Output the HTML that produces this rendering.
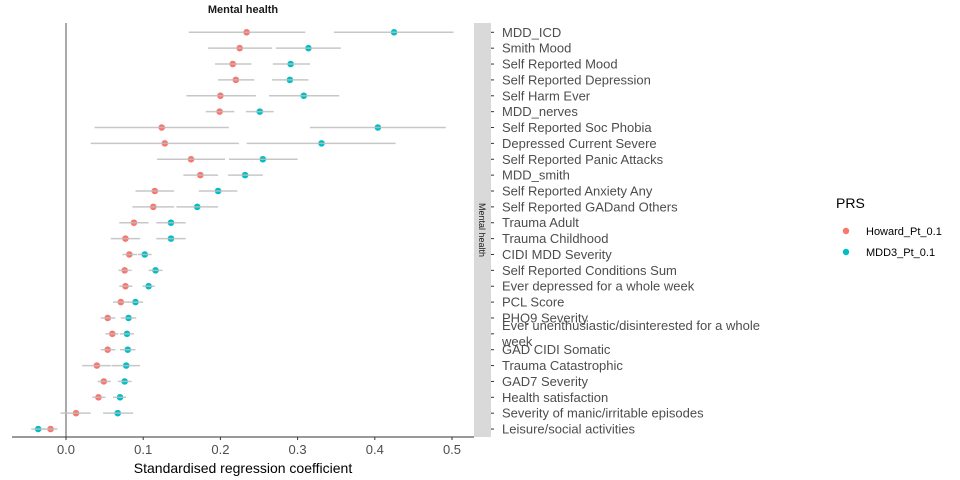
<!DOCTYPE html>
<html><head><meta charset="utf-8"><style>
body{margin:0;background:#fff;}
svg{display:block;font-family:"Liberation Sans",sans-serif;}
</style></head><body>
<svg id="chart" width="960" height="480"></svg>
<script>
const categories=["MDD_ICD","Smith Mood","Self Reported Mood","Self Reported Depression","Self Harm Ever","MDD_nerves","Self Reported Soc Phobia","Depressed Current Severe","Self Reported Panic Attacks","MDD_smith","Self Reported Anxiety Any","Self Reported GADand Others","Trauma Adult","Trauma Childhood","CIDI MDD Severity","Self Reported Conditions Sum","Ever depressed for a whole week","PCL Score","PHQ9 Severity","Ever unenthusiastic/disinterested for a whole week","GAD CIDI Somatic","Trauma Catastrophic","GAD7 Severity","Health satisfaction","Severity of manic/irritable episodes","Leisure/social activities"];
const howardEst=[0.234,0.225,0.216,0.220,0.200,0.199,0.124,0.128,0.162,0.174,0.115,0.113,0.088,0.077,0.082,0.076,0.077,0.071,0.054,0.060,0.054,0.040,0.049,0.042,0.013,-0.020];
const howardLo=[0.159,0.184,0.193,0.197,0.156,0.181,0.037,0.032,0.118,0.152,0.090,0.086,0.069,0.058,0.073,0.068,0.069,0.061,0.045,0.051,0.045,0.021,0.041,0.034,-0.007,-0.029];
const howardHi=[0.310,0.267,0.240,0.244,0.246,0.218,0.211,0.224,0.206,0.197,0.140,0.140,0.107,0.096,0.092,0.085,0.086,0.081,0.064,0.068,0.064,0.058,0.058,0.051,0.032,-0.011];
const mdd3Est=[0.425,0.314,0.291,0.290,0.308,0.251,0.404,0.331,0.255,0.232,0.197,0.170,0.136,0.136,0.102,0.116,0.107,0.090,0.081,0.079,0.080,0.078,0.076,0.070,0.067,-0.036];
const mdd3Lo=[0.347,0.272,0.268,0.267,0.263,0.233,0.316,0.234,0.211,0.210,0.172,0.143,0.117,0.117,0.093,0.107,0.099,0.080,0.071,0.070,0.070,0.059,0.067,0.061,0.048,-0.045];
const mdd3Hi=[0.502,0.356,0.316,0.314,0.354,0.269,0.492,0.427,0.300,0.255,0.222,0.197,0.155,0.155,0.111,0.125,0.115,0.100,0.091,0.088,0.090,0.096,0.085,0.078,0.087,-0.027];
const xTicks=[0,0.1,0.2,0.3,0.4,0.5];
const xTickLabels=["0.0","0.1","0.2","0.3","0.4","0.5"];

const NS="http://www.w3.org/2000/svg";
const svg=document.getElementById('chart');
const P={l:12,r:474,t:23,b:437};
const x=v=>66+772*v;
const y=i=>32.3+i*15.87;
function mk(t,a,txt){const e=document.createElementNS(NS,t);for(const k in a)e.setAttribute(k,a[k]);if(txt!=null)e.textContent=txt;svg.appendChild(e);return e;}

let e;
e=mk('text',{x:243,y:13,'text-anchor':'middle','font-size':11,'font-weight':'bold',fill:'#1a1a1a'},'Mental health');


e=mk('line',{x1:x(0),x2:x(0),y1:P.t,y2:P.b,stroke:'#555','stroke-width':1});


e=mk('line',{x1:P.l,x2:P.r,y1:P.b,y2:P.b,stroke:'#333','stroke-width':1});


xTicks.forEach((t,i)=>{
  e=mk('line',{x1:x(t),x2:x(t),y1:P.b,y2:P.b+3,stroke:'#333'});
  
  
  e=mk('text',{x:x(t),y:P.b+17,'text-anchor':'middle','font-size':13,fill:'#4d4d4d'},xTickLabels[i]);
  
  
});
e=mk('text',{x:243,y:473,'text-anchor':'middle','font-size':14,fill:'#000'},'Standardised regression coefficient');


e=mk('rect',{x:474,y:P.t,width:17,height:P.b-P.t,fill:'#d9d9d9'});


e=mk('text',{x:479,y:230,'text-anchor':'middle','font-size':9,fill:'#1a1a1a',transform:'rotate(90 479 230)'},'Mental health');



categories.forEach((c,i)=>{
  e=mk('line',{x1:491,x2:494,y1:y(i),y2:y(i),stroke:'#333'});
  
  
  if(c.length>40){
    e=mk('text',{x:502,y:y(i)-4,'font-size':13,fill:'#4d4d4d'},'Ever unenthusiastic/disinterested for a whole');
    
    
    e=mk('text',{x:502,y:y(i)+12,'font-size':13,fill:'#4d4d4d'},'week');
    
    
  } else {
    e=mk('text',{x:502,y:y(i)+4.5,'font-size':13,fill:'#4d4d4d'},c);
    
    
  }
});

function series(est,lo,hi,col,name){
  est.forEach((v,i)=>{
    e=mk('circle',{cx:x(v),cy:y(i),r:3.5,fill:col,stroke:'#fff','stroke-width':0.5});
    
    
    e=mk('line',{x1:x(lo[i]),x2:x(hi[i]),y1:y(i),y2:y(i),stroke:'#bdbdbd','stroke-width':1.5,'stroke-opacity':0.85});
    
    
  });
}
series(howardEst,howardLo,howardHi,'#F8766D','howard');
series(mdd3Est,mdd3Lo,mdd3Hi,'#00BFC4','mdd3');

e=mk('text',{x:836,y:208,'font-size':14,fill:'#000'},'PRS');


[['Howard_Pt_0.1','#F8766D',231],['MDD3_Pt_0.1','#00BFC4',252]].forEach(([t,c,yy])=>{
  e=mk('circle',{cx:846,cy:yy,r:3.2,fill:c});
  
  
  e=mk('text',{x:866,y:yy+4,'font-size':11,fill:'#000'},t);
  
  
});
</script>
</body></html>
